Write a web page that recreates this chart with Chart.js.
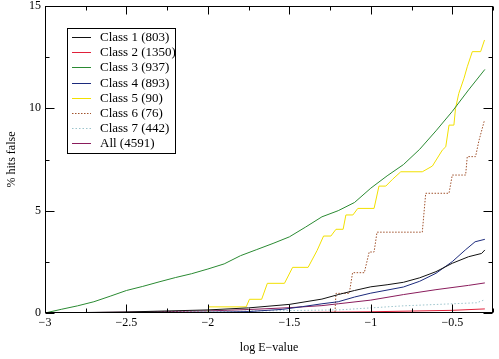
<!DOCTYPE html>
<html>
<head>
<meta charset="utf-8">
<script src="https://cdn.jsdelivr.net/npm/chart.js@4.4.0/dist/chart.umd.min.js"></script>
<style>
html,body{margin:0;padding:0;background:#fff;}
canvas{display:block;}
</style>
</head>
<body>
<canvas id="c" width="499" height="359"></canvas>
<script>
// ---- data (x = log E-value, y = % hits false) ----
const seriesLabels = ["Class 1 (803)","Class 2 (1350)","Class 3 (937)","Class 4 (893)","Class 5 (90)","Class 6 (76)","Class 7 (442)","All (4591)"];
const class1 = [[-3,0],[-2.5,0.05],[-2.0,0.15],[-1.75,0.25],[-1.5,0.42],[-1.3,0.68],[-1.2,0.9],[-1.1,1.1],[-1.0,1.28],[-0.9,1.38],[-0.8,1.5],[-0.7,1.72],[-0.6,2.02],[-0.5,2.43],[-0.4,2.75],[-0.32,2.91],[-0.3,3.08]];
const class2 = [[-3,0],[-2.0,0.01],[-1.5,0.02],[-1.0,0.06],[-0.5,0.13],[-0.3,0.2]];
const class3 = [[-3,0],[-2.9,0.18],[-2.8,0.35],[-2.7,0.55],[-2.6,0.82],[-2.5,1.1],[-2.4,1.3],[-2.3,1.52],[-2.2,1.73],[-2.1,1.92],[-2.0,2.15],[-1.9,2.4],[-1.8,2.8],[-1.7,3.1],[-1.6,3.4],[-1.5,3.72],[-1.4,4.2],[-1.3,4.7],[-1.2,5.0],[-1.1,5.4],[-1.0,6.1],[-0.9,6.7],[-0.8,7.25],[-0.7,8.0],[-0.6,8.9],[-0.5,9.85],[-0.4,10.9],[-0.3,11.9]];
const class4 = [[-3,0],[-2.0,0.03],[-1.75,0.07],[-1.54,0.18],[-1.42,0.31],[-1.3,0.45],[-1.2,0.55],[-1.1,0.78],[-1.0,0.97],[-0.8,1.27],[-0.7,1.55],[-0.6,1.94],[-0.5,2.51],[-0.42,3.08],[-0.36,3.48],[-0.3,3.6]];
const class5 = [[-3,0],[-2.0,0],[-1.995,0.3],[-1.765,0.3],[-1.745,0.67],[-1.67,0.67],[-1.635,1.45],[-1.53,1.45],[-1.48,2.23],[-1.385,2.23],[-1.33,3.05],[-1.29,3.76],[-1.245,3.76],[-1.214,4.09],[-1.17,4.09],[-1.153,4.79],[-1.11,4.79],[-1.08,5.11],[-0.98,5.11],[-0.95,6.2],[-0.908,6.2],[-0.867,6.53],[-0.816,6.9],[-0.684,6.9],[-0.622,7.18],[-0.561,7.96],[-0.54,8.12],[-0.52,9.18],[-0.49,9.18],[-0.48,10.0],[-0.46,10.73],[-0.428,11.47],[-0.408,12.03],[-0.377,12.77],[-0.326,12.77],[-0.302,13.34]];
const class6 = [[-3,0],[-1.22,0],[-1.214,0.96],[-1.132,0.96],[-1.112,1.97],[-1.04,1.97],[-1.01,2.98],[-0.98,2.98],[-0.962,3.95],[-0.684,3.95],[-0.663,5.85],[-0.52,5.85],[-0.5,6.74],[-0.418,6.74],[-0.408,7.64],[-0.357,7.64],[-0.337,8.4],[-0.302,9.43]];
const class7 = [[-3,0],[-2.5,0.02],[-2.0,0.07],[-1.5,0.12],[-1.2,0.15],[-0.8,0.35],[-0.5,0.45],[-0.35,0.5],[-0.3,0.65]];
const classAll = [[-3,0],[-2.5,0.04],[-2.0,0.1],[-1.75,0.17],[-1.5,0.26],[-1.3,0.36],[-1.2,0.45],[-1.0,0.63],[-0.8,0.9],[-0.6,1.14],[-0.4,1.35],[-0.3,1.47]];
const xMin = -3, xMax = -0.25, yMin = 0, yMax = 15;

const allSeries = [class1,class2,class3,class4,class5,class6,class7,classAll];
const colors = ["#111111","#e0203a","#2a8a32","#1c2a7c","#f2e000","#a0522d","#9cc4cc","#8a1c5c"];
const dashes = [[],[],[],[],[],[1.5,1.5],[1.5,2],[]];

const serif = "'Liberation Serif','DejaVu Serif',serif";
const fmt = v => {
  const s = (Math.round(v*100)/100).toString();
  return s.replace('-', '\u2212');
};

const datasets = allSeries.map((s,i)=>({
  label: seriesLabels[i],
  data: s.map(p=>({x:p[0], y:p[1]})),
  borderColor: colors[i],
  backgroundColor: colors[i],
  borderWidth: 1,
  borderDash: dashes[i],
  pointRadius: 0,
  tension: 0,
  fill: false
}));

const framePlugin = {
  id: 'frame',
  afterDraw(chart){
    const ctx = chart.ctx;
    const a = chart.chartArea;
    const xs = chart.scales.x, ys = chart.scales.y;
    ctx.save();
    ctx.strokeStyle = '#000';
    ctx.lineWidth = 1;
    const L = Math.round(a.left)+0.5, R = Math.round(a.right)-0.5, T = Math.round(a.top)+0.5, B = Math.round(a.bottom)-0.5;
    ctx.strokeRect(L, T, R-L, B-T);
    ctx.beginPath();
    xs.ticks.forEach(t=>{
      const v = t.value;
      const major = Math.abs(v*2 - Math.round(v*2)) < 1e-6;
      const len = major ? 8 : 4;
      const px = Math.round(xs.getPixelForValue(v))+0.5;
      ctx.moveTo(px, B); ctx.lineTo(px, B-len);
      ctx.moveTo(px, T); ctx.lineTo(px, T+len);
    });
    ys.ticks.forEach(t=>{
      const v = t.value;
      const major = Math.abs(v/5 - Math.round(v/5)) < 1e-6;
      const len = major ? 9 : 4;
      const py = Math.round(ys.getPixelForValue(v))+0.5;
      ctx.moveTo(L, py); ctx.lineTo(L+len, py);
      ctx.moveTo(R, py); ctx.lineTo(R-len, py);
    });
    ctx.stroke();

    // legend box
    const bx = 67.5, by = 28.5, bw = 108, bh = 125;
    ctx.fillStyle = '#fff';
    ctx.fillRect(bx, by, bw, bh);
    ctx.strokeRect(bx, by, bw, bh);
    ctx.font = "13px " + serif;
    ctx.textBaseline = 'middle';
    ctx.textAlign = 'left';
    chart.data.datasets.forEach((d,i)=>{
      const y = Math.round(37 + i*15.2)+0.5;
      ctx.beginPath();
      ctx.strokeStyle = d.borderColor;
      ctx.setLineDash(d.borderDash || []);
      ctx.moveTo(72, y); ctx.lineTo(91, y);
      ctx.stroke();
      ctx.setLineDash([]);
      ctx.fillStyle = '#000';
      ctx.fillText(d.label, 100, y);
    });
    ctx.restore();
  }
};

new Chart(document.getElementById('c'), {
  type: 'line',
  data: { datasets },
  options: {
    responsive: false,
    animation: false,
    devicePixelRatio: 1,
    layout: { padding: { top: 6, right: 6, left: 0, bottom: 0 } },
    plugins: { legend: { display: false }, tooltip: { enabled: false } },
    scales: {
      x: {
        type: 'linear', min: xMin, max: xMax,
        grid: { display: false, drawTicks: false },
        border: { display: false },
        ticks: {
          stepSize: 0.25, autoSkip: false, maxRotation: 0, padding: 3,
          color: '#000', font: { family: serif, size: 12 },
          callback: v => (Math.abs(v*2 - Math.round(v*2)) < 1e-6 ? fmt(v) : '')
        },
        title: { display: true, text: 'log E\u2212value', color: '#000', font: { family: serif, size: 12 }, padding: { top: 0, bottom: 4 } },
        afterFit: s => { s.height = 46; s.paddingLeft = 0; s.paddingRight = 0; }
      },
      y: {
        type: 'linear', min: yMin, max: yMax,
        grid: { display: false, drawTicks: false },
        border: { display: false },
        ticks: {
          stepSize: 2.5, autoSkip: false, padding: 4,
          color: '#000', font: { family: serif, size: 12 },
          callback: v => (Math.abs(v/5 - Math.round(v/5)) < 1e-6 ? fmt(v) : '')
        },
        title: { display: true, text: '% hits false', color: '#000', font: { family: serif, size: 12 }, padding: { top: 5, bottom: 5 } },
        afterFit: s => { s.width = 45; s.paddingTop = 0; s.paddingBottom = 0; }
      }
    }
  },
  plugins: [framePlugin]
});
</script>
</body>
</html>
